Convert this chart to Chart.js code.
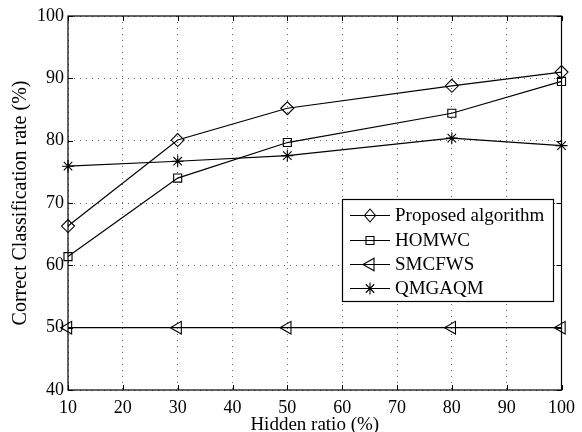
<!DOCTYPE html>
<html>
<head>
<meta charset="utf-8">
<script src="https://cdn.jsdelivr.net/npm/chart.js@4.4.1/dist/chart.umd.min.js"></script>
<style>
html,body{margin:0;padding:0;background:#fff;}
#wrap{width:582px;height:432px;}
</style>
</head>
<body>
<div id="wrap"><canvas id="c" width="582" height="432"></canvas></div>
<script>
const hiddenRatio = [10, 30, 50, 80, 100];
const proposed = [66.3, 80.1, 85.2, 88.8, 91.0];
const homwc = [61.4, 74.0, 79.7, 84.4, 89.5];
const smcfws = [50, 50, 50, 50, 50];
const qmgaqm = [75.9, 76.7, 77.6, 80.4, 79.2];
const seriesNames = ['Proposed algorithm', 'HOMWC', 'SMCFWS', 'QMGAQM'];
const xTicks = [10, 20, 30, 40, 50, 60, 70, 80, 90, 100];
const yTicks = [40, 50, 60, 70, 80, 90, 100];

const FONT = '"Liberation Serif", "Times New Roman", serif';
const pts = arr => hiddenRatio.map((x, i) => ({x: x, y: arr[i]}));

function mk(label, arr, style, radius, rotation) {
  return {
    label: label, data: pts(arr),
    borderColor: '#000', backgroundColor: 'rgba(0,0,0,0)',
    borderWidth: 1.2, pointStyle: style, pointRadius: radius,
    pointRotation: rotation || 0, pointBorderWidth: 1.1,
    pointBackgroundColor: 'rgba(0,0,0,0)', pointBorderColor: '#000',
    tension: 0, clip: false
  };
}

function drawMarker(ctx, kind, x, y) {
  ctx.beginPath();
  if (kind === 'diamond') {
    ctx.moveTo(x, y - 6.5); ctx.lineTo(x + 5.5, y); ctx.lineTo(x, y + 6.5); ctx.lineTo(x - 5.5, y); ctx.closePath();
  } else if (kind === 'square') {
    ctx.rect(x - 4, y - 4, 8, 8);
  } else if (kind === 'tri') {
    ctx.moveTo(x - 7, y); ctx.lineTo(x + 4, y - 6.3); ctx.lineTo(x + 4, y + 6.3); ctx.closePath();
  } else if (kind === 'star') {
    for (let k = 0; k < 4; k++) {
      const a = k * Math.PI / 4;
      ctx.moveTo(x - 6 * Math.cos(a), y - 6 * Math.sin(a));
      ctx.lineTo(x + 6 * Math.cos(a), y + 6 * Math.sin(a));
    }
  }
  ctx.stroke();
}

const framePlugin = {
  id: 'frame',
  afterDraw(chart) {
    const {ctx, chartArea: a, scales} = chart;
    ctx.save();
    ctx.strokeStyle = '#000';
    ctx.lineWidth = 1.2;
    ctx.strokeRect(a.left, a.top, a.right - a.left, a.bottom - a.top);
    ctx.lineWidth = 1;
    ctx.beginPath();
    xTicks.forEach(v => {
      const px = Math.round(scales.x.getPixelForValue(v)) + 0.5;
      ctx.moveTo(px, a.bottom); ctx.lineTo(px, a.bottom - 5);
      ctx.moveTo(px, a.top); ctx.lineTo(px, a.top + 5);
    });
    yTicks.forEach(v => {
      const py = Math.round(scales.y.getPixelForValue(v)) + 0.5;
      ctx.moveTo(a.left, py); ctx.lineTo(a.left + 5, py);
      ctx.moveTo(a.right, py); ctx.lineTo(a.right - 5, py);
    });
    ctx.stroke();

    // legend
    const lx = 342, ly = 199, lw = 211, lh = 102;
    ctx.fillStyle = '#fff';
    ctx.fillRect(lx, ly, lw, lh);
    ctx.lineWidth = 1.2;
    ctx.strokeRect(lx + 0.5, ly + 0.5, lw, lh);
    const kinds = ['diamond', 'square', 'tri', 'star'];
    const rows = [215, 240, 264, 288];
    ctx.font = '19px ' + FONT;
    ctx.textBaseline = 'middle';
    ctx.fillStyle = '#000';
    seriesNames.forEach((name, i) => {
      const y = rows[i] + 0.5;
      ctx.lineWidth = 1.2;
      ctx.beginPath(); ctx.moveTo(350, y); ctx.lineTo(390, y); ctx.stroke();
      ctx.fillStyle = '#fff';
      ctx.lineWidth = 1.1;
      drawMarker(ctx, kinds[i], 370, y);
      ctx.fillStyle = '#000';
      ctx.fillText(name, 395, y + 1);
    });
    ctx.restore();
  }
};

new Chart(document.getElementById('c'), {
  type: 'line',
  data: {
    datasets: [
      mk(seriesNames[0], proposed, 'rectRot', 6.5),
      mk(seriesNames[1], homwc, 'rect', 5.7),
      mk(seriesNames[2], smcfws, 'triangle', 7.3, -90),
      mk(seriesNames[3], qmgaqm, 'star', 6)
    ]
  },
  options: {
    responsive: false, animation: false, devicePixelRatio: 1,
    layout: {padding: {left: 0, right: 16, top: 16, bottom: 0}},
    plugins: {legend: {display: false}, tooltip: {enabled: false}},
    scales: {
      x: {
        type: 'linear', min: 10, max: 100,
        afterBuildTicks: s => { s.ticks = xTicks.map(v => ({value: v})); },
        afterFit: s => { s.height = 42; },
        grid: {color: '#666', lineWidth: 1, drawTicks: false},
        border: {display: false, dash: [1, 5]},
        ticks: {color: '#000', font: {family: FONT, size: 18}, padding: 7, maxRotation: 0, autoSkip: false},
        title: {display: true, text: 'Hidden ratio (%)', color: '#000', font: {family: FONT, size: 19}, padding: {top: 0, bottom: -4.5}}
      },
      y: {
        type: 'linear', min: 40, max: 100,
        afterBuildTicks: s => { s.ticks = yTicks.map(v => ({value: v})); },
        afterFit: s => { s.width = 68; },
        grid: {color: '#666', lineWidth: 1, drawTicks: false},
        border: {display: false, dash: [1, 5]},
        ticks: {color: '#000', font: {family: FONT, size: 18}, padding: 4},
        title: {display: true, text: 'Correct Classification rate (%)', color: '#000', font: {family: FONT, size: 20}, padding: {top: 9, bottom: 4}}
      }
    }
  },
  plugins: [framePlugin]
});
</script>
</body>
</html>
